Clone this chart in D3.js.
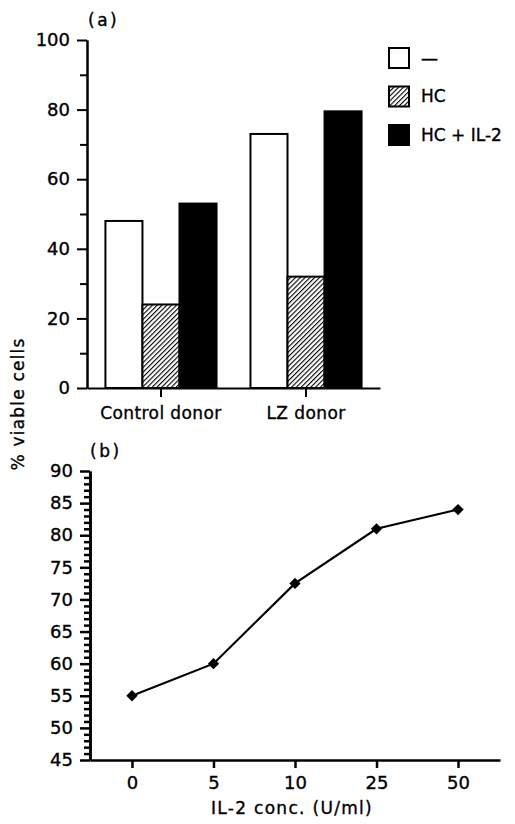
<!DOCTYPE html>
<html>
<head>
<meta charset="utf-8">
<script src="https://cdn.jsdelivr.net/npm/d3@7"></script>
<style>
  body { margin: 0; background: #fff; }
  svg { display: block; }
  text { font-family: "DejaVu Sans", sans-serif; fill: #000; stroke: #000; stroke-width: 0.35px; }
</style>
</head>
<body>
<div id="chart"></div>
<script>
// Panel (a): viability by donor and treatment
const donors = ['Control donor', 'LZ donor'];
const treatments = ['–', 'HC', 'HC + IL-2'];
const controlValues = [48, 24, 53];
const lzValues = [73, 32, 79.5];
const aTicks = [0, 20, 40, 60, 80, 100];
const aMinorTicks = [10, 30, 50, 70, 90];

// Panel (b): IL-2 dose response
const doses = ['0', '5', '10', '25', '50'];
const viability = [55, 60, 72.5, 81, 84];
const bTicks = [45, 50, 55, 60, 65, 70, 75, 80, 85, 90];

const W = 515, H = 824;
const svg = d3.select('#chart').append('svg')
    .attr('width', W)
    .attr('height', H);

svg.append('rect').attr('width', W).attr('height', H).attr('fill', '#fff');

// hatch pattern for HC bars
const defs = svg.append('defs');
const hatch = defs.append('pattern')
    .attr('id', 'hatch')
    .attr('patternUnits', 'userSpaceOnUse')
    .attr('width', 3.4)
    .attr('height', 3.4)
    .attr('patternTransform', 'rotate(45)');
hatch.append('rect').attr('width', 3.4).attr('height', 3.4).attr('fill', '#fff');
hatch.append('line')
    .attr('x1', 0).attr('y1', 0).attr('x2', 0).attr('y2', 3.4)
    .attr('stroke', '#000').attr('stroke-width', 2.2);

const fills = { '–': '#fff', 'HC': 'url(#hatch)', 'HC + IL-2': '#000' };

function styleAxis(g, width) {
    g.selectAll('path.domain').attr('stroke', '#000').attr('stroke-width', width);
    g.selectAll('.tick line').attr('stroke', '#000').attr('stroke-width', width);
    g.selectAll('text').style('font-size', '18px').style('font-family', '"DejaVu Sans", sans-serif');
}

// ---------- Panel (a) ----------
const yA = d3.scaleLinear().domain([0, 100]).range([388, 40]);
const xA = d3.scaleBand().domain(donors).range([87, 380])
    .paddingInner(0.234).paddingOuter(0.127);
const xSub = d3.scaleBand().domain(treatments).range([0, xA.bandwidth()]);

const barData = [];
donors.forEach((d, i) => {
    const vals = i === 0 ? controlValues : lzValues;
    treatments.forEach((t, j) => barData.push({ donor: d, treatment: t, value: vals[j] }));
});

svg.selectAll('.bar')
    .data(barData)
    .enter()
    .append('rect')
    .attr('class', 'bar')
    .attr('x', d => xA(d.donor) + xSub(d.treatment))
    .attr('y', d => yA(d.value))
    .attr('width', xSub.bandwidth())
    .attr('height', d => yA(0) - yA(d.value))
    .attr('fill', d => fills[d.treatment])
    .attr('stroke', '#000')
    .attr('stroke-width', 2);

// minor y ticks
svg.append('g')
    .attr('transform', 'translate(87,0)')
    .call(d3.axisLeft(yA).tickValues(aMinorTicks).tickSize(7).tickSizeOuter(0).tickFormat(''))
    .call(g => styleAxis(g, 2));

svg.append('g')
    .attr('transform', 'translate(87,0)')
    .call(d3.axisLeft(yA).tickValues(aTicks).tickSize(10).tickSizeOuter(0).tickPadding(7))
    .call(g => styleAxis(g, 2));

const xAxisA = svg.append('g')
    .attr('transform', 'translate(0,388)')
    .call(d3.axisBottom(xA).tickSize(9).tickSizeOuter(0).tickPadding(10))
    .call(g => styleAxis(g, 2));
xAxisA.selectAll('text').style('font-size', '17px').style('letter-spacing', '0.4px');

svg.append('text')
    .attr('x', 88).attr('y', 26)
    .style('font-size', '17px')
    .style('letter-spacing', '2.5px')
    .text('(a)');

// legend
const legend = svg.append('g').attr('transform', 'translate(389,48)');
treatments.forEach((t, i) => {
    const row = legend.append('g').attr('transform', `translate(0,${i * 38.5})`);
    row.append('rect')
        .attr('width', 20).attr('height', 20)
        .attr('fill', fills[t])
        .attr('stroke', '#000')
        .attr('stroke-width', 2);
    row.append('text')
        .attr('x', 32).attr('y', 10)
        .attr('dy', '0.35em')
        .style('font-size', '17px')
        .text(t === '–' ? '—' : t);
});

// shared y label
svg.append('text')
    .attr('transform', 'translate(24,404) rotate(-90)')
    .attr('text-anchor', 'middle')
    .style('font-size', '17px')
    .style('letter-spacing', '1.2px')
    .text('% viable cells');

// ---------- Panel (b) ----------
const yB = d3.scaleLinear().domain([45, 90]).range([760, 471]);
const xB = d3.scalePoint().domain(doses).range([90, 500]).padding(0.515);

const bMinor = d3.range(45, 91).filter(v => v % 5 !== 0);
svg.append('g')
    .attr('transform', 'translate(90,0)')
    .call(d3.axisLeft(yB).tickValues(bMinor).tickSize(6).tickSizeOuter(0).tickFormat(''))
    .call(g => styleAxis(g, 2.5));

svg.append('g')
    .attr('transform', 'translate(90,0)')
    .call(d3.axisLeft(yB).tickValues(bTicks).tickSize(10).tickSizeOuter(0).tickPadding(7))
    .call(g => styleAxis(g, 2.5));

svg.append('g')
    .attr('transform', 'translate(0,760)')
    .call(d3.axisBottom(xB).tickSize(8).tickSizeOuter(0).tickPadding(8))
    .call(g => styleAxis(g, 2.5));

const line = d3.line()
    .x((d, i) => xB(doses[i]))
    .y(d => yB(d));

svg.append('path')
    .datum(viability)
    .attr('d', line)
    .attr('fill', 'none')
    .attr('stroke', '#000')
    .attr('stroke-width', 2.2);

svg.selectAll('.pt')
    .data(viability)
    .enter()
    .append('path')
    .attr('class', 'pt')
    .attr('transform', (d, i) => `translate(${xB(doses[i])},${yB(d)}) rotate(45)`)
    .attr('d', d3.symbol(d3.symbolSquare, 64))
    .attr('fill', '#000');

svg.append('text')
    .attr('x', 90).attr('y', 457)
    .style('font-size', '17px')
    .style('letter-spacing', '2.5px')
    .text('(b)');

svg.append('text')
    .attr('x', 292).attr('y', 814)
    .attr('text-anchor', 'middle')
    .style('font-size', '17px')
    .style('letter-spacing', '1.3px')
    .text('IL-2 conc. (U/ml)');
</script>
</body>
</html>
